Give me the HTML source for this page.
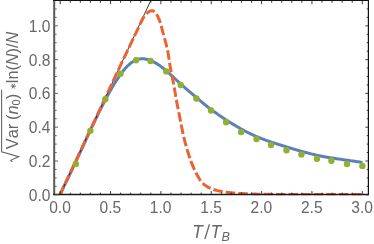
<!DOCTYPE html>
<html><head><meta charset="utf-8"><title>plot</title>
<style>html,body{margin:0;padding:0;background:#fff;}body{width:374px;height:244px;overflow:hidden;font-family:"Liberation Sans",sans-serif;}svg{display:block;will-change:transform}</style>
</head><body>
<svg width="374" height="244" viewBox="0 0 374 244">
<rect width="374" height="244" fill="#fff"/>
<defs><clipPath id="c"><rect x="54" y="0" width="315" height="195.2"/></clipPath></defs>
<g clip-path="url(#c)" fill="none">
<path d="M60.20,194.40 L60.77,193.15 L61.35,191.90 L61.93,190.66 L62.52,189.41 L63.11,188.17 L63.70,186.93 L64.29,185.69 L64.88,184.45 L65.48,183.21 L66.08,181.97 L66.68,180.73 L67.28,179.50 L67.88,178.26 L68.48,177.02 L69.08,175.79 L69.68,174.55 L70.28,173.31 L70.89,172.08 L71.49,170.84 L72.09,169.60 L72.68,168.37 L73.28,167.13 L73.87,165.89 L74.47,164.65 L75.06,163.41 L75.65,162.16 L76.23,160.92 L76.82,159.67 L77.40,158.43 L77.98,157.18 L78.56,155.93 L79.13,154.69 L79.71,153.44 L80.28,152.19 L80.85,150.94 L81.43,149.69 L82.00,148.44 L82.57,147.19 L83.14,145.94 L83.71,144.69 L84.28,143.43 L84.85,142.18 L85.42,140.93 L86.00,139.68 L86.57,138.43 L87.14,137.18 L87.72,135.93 L88.29,134.69 L88.87,133.44 L89.45,132.19 L90.03,130.94 L90.61,129.70 L91.19,128.45 L91.78,127.21 L92.37,125.97 L92.95,124.72 L93.55,123.48 L94.14,122.24 L94.74,121.00 L95.33,119.76 L95.93,118.53 L96.53,117.29 L97.14,116.06 L97.74,114.82 L98.35,113.59 L98.96,112.36 L99.58,111.13 L100.19,109.90 L100.81,108.67 L101.43,107.44 L102.05,106.22 L102.68,104.99 L103.31,103.77 L103.94,102.55 L104.57,101.32 L105.21,100.10 L105.84,98.89 L106.49,97.67 L107.13,96.46 L107.78,95.24 L108.44,94.03 L109.10,92.83 L109.76,91.62 L110.43,90.43 L111.11,89.23 L111.80,88.04 L112.49,86.85 L113.20,85.67 L113.91,84.49 L114.63,83.32 L115.36,82.16 L116.10,81.00 L116.85,79.84 L117.60,78.70 L118.37,77.56 L119.15,76.42 L119.94,75.29 L120.74,74.17 L121.54,73.06 L122.37,71.96 L123.21,70.87 L124.07,69.80 L124.95,68.74 L125.86,67.71 L126.80,66.70 L127.77,65.72 L128.78,64.77 L129.82,63.85 L130.91,62.99 L132.03,62.17 L133.19,61.43 L134.39,60.75 L135.63,60.16 L136.92,59.65 L138.24,59.25 L139.60,58.95 L140.96,58.76 L142.34,58.70 L143.71,58.75 L145.08,58.92 L146.44,59.19 L147.78,59.54 L149.10,59.97 L150.41,60.46 L151.68,61.00 L152.93,61.59 L154.16,62.21 L155.36,62.88 L156.54,63.58 L157.71,64.31 L158.85,65.07 L159.98,65.85 L161.10,66.65 L162.20,67.48 L163.28,68.32 L164.36,69.18 L165.42,70.06 L166.47,70.95 L167.51,71.85 L168.55,72.76 L169.57,73.67 L170.59,74.60 L171.60,75.53 L172.61,76.46 L173.62,77.40 L174.62,78.34 L175.62,79.28 L176.62,80.22 L177.63,81.16 L178.63,82.10 L179.64,83.03 L180.66,83.96 L181.68,84.88 L182.70,85.80 L183.73,86.71 L184.77,87.61 L185.80,88.51 L186.85,89.41 L187.89,90.30 L188.94,91.19 L189.99,92.08 L191.04,92.97 L192.09,93.86 L193.14,94.74 L194.19,95.63 L195.24,96.52 L196.29,97.41 L197.34,98.30 L198.39,99.19 L199.43,100.09 L200.48,100.98 L201.53,101.87 L202.58,102.76 L203.64,103.64 L204.69,104.52 L205.76,105.39 L206.82,106.26 L207.90,107.11 L208.98,107.96 L210.07,108.80 L211.17,109.62 L212.27,110.44 L213.39,111.24 L214.51,112.04 L215.64,112.82 L216.77,113.60 L217.91,114.37 L219.05,115.14 L220.20,115.90 L221.34,116.66 L222.49,117.42 L223.64,118.18 L224.79,118.94 L225.94,119.69 L227.10,120.44 L228.25,121.19 L229.41,121.93 L230.57,122.67 L231.73,123.40 L232.90,124.13 L234.07,124.85 L235.25,125.56 L236.43,126.27 L237.61,126.97 L238.80,127.66 L239.99,128.34 L241.19,129.01 L242.39,129.68 L243.60,130.33 L244.82,130.98 L246.04,131.61 L247.27,132.23 L248.50,132.85 L249.73,133.45 L250.98,134.04 L252.22,134.62 L253.48,135.20 L254.73,135.76 L255.99,136.31 L257.26,136.85 L258.53,137.38 L259.80,137.90 L261.08,138.41 L262.37,138.91 L263.65,139.40 L264.94,139.87 L266.23,140.34 L267.53,140.80 L268.83,141.25 L270.13,141.69 L271.43,142.13 L272.74,142.56 L274.05,142.98 L275.36,143.40 L276.67,143.82 L277.98,144.23 L279.29,144.64 L280.61,145.05 L281.92,145.46 L283.23,145.87 L284.54,146.28 L285.86,146.69 L287.17,147.09 L288.49,147.50 L289.80,147.90 L291.12,148.30 L292.43,148.70 L293.75,149.09 L295.07,149.48 L296.38,149.87 L297.70,150.26 L299.03,150.64 L300.35,151.02 L301.67,151.39 L303.00,151.75 L304.32,152.12 L305.65,152.47 L306.98,152.82 L308.31,153.17 L309.65,153.50 L310.98,153.84 L312.32,154.16 L313.66,154.48 L315.00,154.79 L316.34,155.09 L317.68,155.39 L319.03,155.68 L320.37,155.95 L321.72,156.23 L323.07,156.49 L324.42,156.74 L325.78,156.99 L327.13,157.22 L328.49,157.45 L329.84,157.67 L331.20,157.89 L332.56,158.10 L333.92,158.31 L335.28,158.51 L336.64,158.71 L338.00,158.91 L339.36,159.11 L340.72,159.30 L342.08,159.50 L343.44,159.70 L344.80,159.89 L346.16,160.09 L347.53,160.28 L348.89,160.48 L350.25,160.67 L351.61,160.87 L352.97,161.06 L354.33,161.25 L355.69,161.45 L357.05,161.64 L358.41,161.83 L359.78,162.02 L361.14,162.21 L362.50,162.40" stroke="#5E81B5" stroke-width="3" stroke-linejoin="round"/>
<path d="M60.2,194.4 L153.38,-5" stroke="#222" stroke-width="0.9"/>
<path d="M60.20,194.40 L60.67,193.40 L61.13,192.40 L61.60,191.41 L62.06,190.41 L62.53,189.41 L62.99,188.41 L63.46,187.41 L63.93,186.42 L64.39,185.42 L64.86,184.42 L65.32,183.42 L65.79,182.42 L66.26,181.43 L66.72,180.43 L67.19,179.43 L67.65,178.43 L68.12,177.44 L68.59,176.44 L69.05,175.44 L69.52,174.44 L69.98,173.45 L70.45,172.45 L70.92,171.45 L71.38,170.45 L71.85,169.46 L72.32,168.46 L72.78,167.46 L73.25,166.46 L73.71,165.47 L74.18,164.47 L74.65,163.47 L75.11,162.48 L75.58,161.48 L76.05,160.48 L76.51,159.48 L76.98,158.49 L77.45,157.49 L77.91,156.49 L78.38,155.49 L78.84,154.50 L79.31,153.50 L79.78,152.50 L80.24,151.51 L80.71,150.51 L81.18,149.51 L81.64,148.51 L82.11,147.52 L82.58,146.52 L83.04,145.52 L83.51,144.53 L83.98,143.53 L84.44,142.53 L84.91,141.53 L85.37,140.54 L85.84,139.54 L86.31,138.54 L86.77,137.54 L87.24,136.55 L87.71,135.55 L88.17,134.55 L88.64,133.55 L89.11,132.56 L89.57,131.56 L90.04,130.56 L90.50,129.56 L90.97,128.57 L91.44,127.57 L91.90,126.57 L92.37,125.57 L92.83,124.58 L93.30,123.58 L93.77,122.58 L94.23,121.58 L94.70,120.59 L95.16,119.59 L95.63,118.59 L96.10,117.59 L96.56,116.60 L97.03,115.60 L97.49,114.60 L97.96,113.60 L98.43,112.60 L98.89,111.61 L99.36,110.61 L99.82,109.61 L100.29,108.61 L100.75,107.61 L101.22,106.61 L101.68,105.62 L102.15,104.62 L102.62,103.62 L103.08,102.62 L103.55,101.62 L104.01,100.62 L104.48,99.63 L104.94,98.63 L105.41,97.63 L105.87,96.63 L106.34,95.63 L106.80,94.63 L107.27,93.64 L107.73,92.64 L108.20,91.64 L108.67,90.64 L109.13,89.64 L109.60,88.65 L110.06,87.65 L110.53,86.65 L111.00,85.65 L111.46,84.65 L111.93,83.66 L112.39,82.66 L112.86,81.66 L113.33,80.66 L113.79,79.67 L114.26,78.67 L114.73,77.67 L115.19,76.68 L115.66,75.68 L116.13,74.68 L116.59,73.69 L117.06,72.69 L117.53,71.69 L117.99,70.70 L118.46,69.70 L118.93,68.70 L119.40,67.71 L119.87,66.71 L120.33,65.72 L120.80,64.72 L121.27,63.73 L121.74,62.73 L122.21,61.74 L122.68,60.74 L123.15,59.75 L123.62,58.76 L124.09,57.76 L124.56,56.77 L125.03,55.77 L125.50,54.78 L125.97,53.79 L126.44,52.79 L126.91,51.80 L127.39,50.80 L127.86,49.81 L128.33,48.82 L128.81,47.82 L129.28,46.83 L129.76,45.84 L130.23,44.84 L130.71,43.85 L131.18,42.85 L131.66,41.86 L132.14,40.87 L132.61,39.87 L133.09,38.88 L133.57,37.88 L134.05,36.89 L134.53,35.90 L135.01,34.90 L135.49,33.91 L135.98,32.91 L136.46,31.92 L136.94,30.92 L137.42,29.93 L137.89,28.93 L138.37,27.94 L138.84,26.95 L139.31,25.95 L139.77,24.96 L140.23,23.97 L140.69,22.98 L141.14,21.99 L141.60,21.00 L142.08,20.03 L142.58,19.06 L143.11,18.11 L143.68,17.17 L144.30,16.26 L144.97,15.36 L145.71,14.50 L146.52,13.66 L147.40,12.85 L148.36,12.10 L149.36,11.45 L150.38,10.98 L151.39,10.72 L152.37,10.73 L153.31,11.04 L154.18,11.60 L155.01,12.35 L155.78,13.27 L156.49,14.28 L157.14,15.36 L157.74,16.45 L158.27,17.52 L158.76,18.58 L159.20,19.63 L159.59,20.66 L159.96,21.69 L160.29,22.72 L160.60,23.74 L160.89,24.76 L161.17,25.78 L161.44,26.81 L161.71,27.84 L161.99,28.88 L162.27,29.93 L162.55,30.98 L162.84,32.04 L163.12,33.10 L163.42,34.17 L163.71,35.24 L164.00,36.31 L164.29,37.38 L164.59,38.46 L164.88,39.53 L165.17,40.60 L165.46,41.67 L165.74,42.73 L166.02,43.80 L166.30,44.87 L166.57,45.93 L166.82,47.00 L167.07,48.07 L167.31,49.14 L167.54,50.22 L167.76,51.29 L167.96,52.37 L168.15,53.45 L168.34,54.54 L168.51,55.62 L168.68,56.71 L168.85,57.80 L169.01,58.89 L169.17,59.98 L169.33,61.07 L169.49,62.16 L169.65,63.25 L169.82,64.34 L169.99,65.43 L170.17,66.52 L170.35,67.61 L170.55,68.69 L170.75,69.77 L170.96,70.85 L171.17,71.93 L171.39,73.01 L171.61,74.09 L171.83,75.17 L172.06,76.25 L172.28,77.33 L172.51,78.40 L172.73,79.48 L172.96,80.56 L173.17,81.64 L173.39,82.72 L173.60,83.80 L173.80,84.88 L174.00,85.97 L174.19,87.05 L174.38,88.13 L174.56,89.22 L174.75,90.30 L174.93,91.39 L175.11,92.48 L175.29,93.56 L175.48,94.65 L175.66,95.74 L175.84,96.82 L176.03,97.91 L176.22,98.99 L176.42,100.07 L176.61,101.16 L176.81,102.24 L177.02,103.32 L177.22,104.40 L177.43,105.48 L177.64,106.57 L177.85,107.65 L178.06,108.73 L178.27,109.81 L178.49,110.89 L178.70,111.97 L178.92,113.05 L179.14,114.13 L179.35,115.21 L179.57,116.29 L179.78,117.37 L179.99,118.45 L180.21,119.53 L180.42,120.61 L180.63,121.69 L180.84,122.77 L181.05,123.85 L181.26,124.93 L181.47,126.02 L181.68,127.10 L181.90,128.18 L182.11,129.26 L182.33,130.34 L182.55,131.42 L182.78,132.49 L183.01,133.57 L183.24,134.65 L183.48,135.72 L183.73,136.79 L183.98,137.87 L184.24,138.93 L184.50,140.00 L184.77,141.07 L185.05,142.13 L185.34,143.20 L185.63,144.26 L185.93,145.32 L186.23,146.38 L186.53,147.44 L186.84,148.49 L187.16,149.55 L187.47,150.61 L187.79,151.66 L188.11,152.72 L188.43,153.77 L188.76,154.82 L189.10,155.87 L189.44,156.92 L189.78,157.97 L190.14,159.01 L190.50,160.05 L190.87,161.08 L191.25,162.11 L191.65,163.14 L192.05,164.16 L192.47,165.18 L192.89,166.19 L193.33,167.20 L193.78,168.20 L194.23,169.20 L194.70,170.20 L195.18,171.20 L195.67,172.19 L196.17,173.17 L196.68,174.16 L197.20,175.14 L197.73,176.12 L198.28,177.08 L198.85,178.03 L199.44,178.97 L200.06,179.89 L200.71,180.78 L201.39,181.64 L202.11,182.47 L202.87,183.27 L203.66,184.02 L204.50,184.74 L205.37,185.42 L206.28,186.06 L207.21,186.66 L208.17,187.21 L209.15,187.73 L210.15,188.20 L211.17,188.64 L212.20,189.03 L213.24,189.40 L214.29,189.73 L215.34,190.04 L216.41,190.33 L217.48,190.60 L218.55,190.84 L219.63,191.08 L220.71,191.29 L221.79,191.49 L222.88,191.68 L223.96,191.85 L225.05,192.01 L226.14,192.16 L227.24,192.30 L228.33,192.44 L229.42,192.56 L230.52,192.68 L231.61,192.79 L232.71,192.89 L233.81,192.99 L234.90,193.08 L236.00,193.16 L237.10,193.24 L238.20,193.31 L239.30,193.38 L240.40,193.45 L241.50,193.51 L242.60,193.56 L243.70,193.62 L244.80,193.67 L245.90,193.73 L247.00,193.78 L248.10,193.83 L249.20,193.88 L250.30,193.93 L251.40,193.97 L252.50,194.01 L253.60,194.05 L254.70,194.09 L255.80,194.12 L256.90,194.16 L258.00,194.19 L259.10,194.21 L260.20,194.24 L261.30,194.26 L262.40,194.28 L263.50,194.30 L264.60,194.31 L265.70,194.33 L266.81,194.34 L267.91,194.35 L269.01,194.36 L270.11,194.37 L271.21,194.37 L272.31,194.38 L273.41,194.38 L274.51,194.39 L275.62,194.39 L276.72,194.39 L277.82,194.40 L278.92,194.40 L280.02,194.40 L281.12,194.40 L282.22,194.40 L283.32,194.40 L284.42,194.41 L285.53,194.41 L286.63,194.41 L287.73,194.41 L288.83,194.41 L289.93,194.41 L291.03,194.41 L292.13,194.41 L293.23,194.41 L294.33,194.41 L295.44,194.41 L296.54,194.41 L297.64,194.41 L298.74,194.41 L299.84,194.41 L300.94,194.41 L302.04,194.41 L303.14,194.41 L304.24,194.41 L305.35,194.41 L306.45,194.41 L307.55,194.41 L308.65,194.41 L309.75,194.41 L310.85,194.41 L311.95,194.41 L313.05,194.40 L314.15,194.40 L315.25,194.40 L316.36,194.40 L317.46,194.40 L318.56,194.40 L319.66,194.40 L320.76,194.40 L321.86,194.40 L322.96,194.40 L324.06,194.40 L325.16,194.40 L326.26,194.40 L327.37,194.39 L328.47,194.39 L329.57,194.39 L330.67,194.39 L331.77,194.39 L332.87,194.39 L333.97,194.39 L335.07,194.39 L336.17,194.39 L337.28,194.39 L338.38,194.39 L339.48,194.39 L340.58,194.39 L341.68,194.39 L342.78,194.39 L343.88,194.39 L344.98,194.39 L346.08,194.39 L347.18,194.39 L348.29,194.39 L349.39,194.39 L350.49,194.39 L351.59,194.39 L352.69,194.39 L353.79,194.39 L354.89,194.39 L355.99,194.39 L357.10,194.39 L358.20,194.40 L359.30,194.40 L360.40,194.40 L361.50,194.40" stroke="#EB6235" stroke-width="3" stroke-dasharray="9.55 3.04" stroke-dashoffset="1.22" stroke-linejoin="round"/>
</g>
<circle cx="75.8" cy="163.9" r="3.2" fill="#8FB032"/>
<circle cx="90.4" cy="130.75" r="3.2" fill="#8FB032"/>
<circle cx="105.3" cy="99.3" r="3.2" fill="#8FB032"/>
<circle cx="120.5" cy="73.7" r="3.2" fill="#8FB032"/>
<circle cx="136.1" cy="60.3" r="3.2" fill="#8FB032"/>
<circle cx="150.5" cy="61.0" r="3.2" fill="#8FB032"/>
<circle cx="166.3" cy="71.4" r="3.2" fill="#8FB032"/>
<circle cx="180.7" cy="85.0" r="3.2" fill="#8FB032"/>
<circle cx="196.4" cy="98.5" r="3.2" fill="#8FB032"/>
<circle cx="211.0" cy="110.5" r="3.2" fill="#8FB032"/>
<circle cx="226.1" cy="122.2" r="3.2" fill="#8FB032"/>
<circle cx="241.1" cy="132.1" r="3.2" fill="#8FB032"/>
<circle cx="256.5" cy="139.1" r="3.2" fill="#8FB032"/>
<circle cx="271.0" cy="145.1" r="3.2" fill="#8FB032"/>
<circle cx="286.5" cy="150.2" r="3.2" fill="#8FB032"/>
<circle cx="301.4" cy="154.4" r="3.2" fill="#8FB032"/>
<circle cx="316.9" cy="158.7" r="3.2" fill="#8FB032"/>
<circle cx="331.4" cy="160.7" r="3.2" fill="#8FB032"/>
<circle cx="347.0" cy="164.0" r="3.2" fill="#8FB032"/>
<circle cx="362.4" cy="165.9" r="3.2" fill="#8FB032"/>
<line x1="54.2" y1="0" x2="54.2" y2="195.1" stroke="#5a5a5a" stroke-width="2"/>
<line x1="53.2" y1="194.5" x2="369.0" y2="194.5" stroke="#1a1a1a" stroke-width="1.3"/>
<line x1="368.4" y1="0" x2="368.4" y2="195.1" stroke="#111" stroke-width="1.2"/>
<line x1="53.2" y1="0.25" x2="369.0" y2="0.25" stroke="#111" stroke-width="1.3"/>
<path d="M60.20,194.5 v-3.4 M60.20,0.25 v4.0 M70.27,194.5 v-1.9 M70.27,0.25 v2.5 M80.34,194.5 v-1.9 M80.34,0.25 v2.5 M90.41,194.5 v-1.9 M90.41,0.25 v2.5 M100.48,194.5 v-1.9 M100.48,0.25 v2.5 M110.55,194.5 v-3.4 M110.55,0.25 v4.0 M120.62,194.5 v-1.9 M120.62,0.25 v2.5 M130.69,194.5 v-1.9 M130.69,0.25 v2.5 M140.76,194.5 v-1.9 M140.76,0.25 v2.5 M150.83,194.5 v-1.9 M150.83,0.25 v2.5 M160.90,194.5 v-3.4 M160.90,0.25 v4.0 M170.97,194.5 v-1.9 M170.97,0.25 v2.5 M181.04,194.5 v-1.9 M181.04,0.25 v2.5 M191.11,194.5 v-1.9 M191.11,0.25 v2.5 M201.18,194.5 v-1.9 M201.18,0.25 v2.5 M211.25,194.5 v-3.4 M211.25,0.25 v4.0 M221.32,194.5 v-1.9 M221.32,0.25 v2.5 M231.39,194.5 v-1.9 M231.39,0.25 v2.5 M241.46,194.5 v-1.9 M241.46,0.25 v2.5 M251.53,194.5 v-1.9 M251.53,0.25 v2.5 M261.60,194.5 v-3.4 M261.60,0.25 v4.0 M271.67,194.5 v-1.9 M271.67,0.25 v2.5 M281.74,194.5 v-1.9 M281.74,0.25 v2.5 M291.81,194.5 v-1.9 M291.81,0.25 v2.5 M301.88,194.5 v-1.9 M301.88,0.25 v2.5 M311.95,194.5 v-3.4 M311.95,0.25 v4.0 M322.02,194.5 v-1.9 M322.02,0.25 v2.5 M332.09,194.5 v-1.9 M332.09,0.25 v2.5 M342.16,194.5 v-1.9 M342.16,0.25 v2.5 M352.23,194.5 v-1.9 M352.23,0.25 v2.5 M362.30,194.5 v-3.4 M362.30,0.25 v4.0" stroke="#222" stroke-width="0.9" fill="none"/>
<path d="M55.0,194.80 h3.0 M55.0,186.35 h1.7 M55.0,177.90 h1.7 M55.0,169.45 h1.7 M55.0,161.00 h3.0 M55.0,152.55 h1.7 M55.0,144.10 h1.7 M55.0,135.65 h1.7 M55.0,127.20 h3.0 M55.0,118.75 h1.7 M55.0,110.30 h1.7 M55.0,101.85 h1.7 M55.0,93.40 h3.0 M55.0,84.95 h1.7 M55.0,76.50 h1.7 M55.0,68.05 h1.7 M55.0,59.60 h3.0 M55.0,51.15 h1.7 M55.0,42.70 h1.7 M55.0,34.25 h1.7 M55.0,25.80 h3.0 M55.0,17.35 h1.7 M55.0,8.90 h1.7" stroke="#555" stroke-width="0.9" fill="none"/>
<path d="M368.4,194.80 h-3.0 M368.4,186.35 h-1.7 M368.4,177.90 h-1.7 M368.4,169.45 h-1.7 M368.4,161.00 h-3.0 M368.4,152.55 h-1.7 M368.4,144.10 h-1.7 M368.4,135.65 h-1.7 M368.4,127.20 h-3.0 M368.4,118.75 h-1.7 M368.4,110.30 h-1.7 M368.4,101.85 h-1.7 M368.4,93.40 h-3.0 M368.4,84.95 h-1.7 M368.4,76.50 h-1.7 M368.4,68.05 h-1.7 M368.4,59.60 h-3.0 M368.4,51.15 h-1.7 M368.4,42.70 h-1.7 M368.4,34.25 h-1.7 M368.4,25.80 h-3.0 M368.4,17.35 h-1.7 M368.4,8.90 h-1.7" stroke="#222" stroke-width="0.9" fill="none"/>
<g font-family="Liberation Sans, sans-serif" fill="#676767" style="font-kerning:none">
<text transform="translate(60.00,212.60) scale(1,1.03)" font-size="15.6" text-anchor="middle">0.0</text>
<text transform="translate(110.35,212.60) scale(1,1.03)" font-size="15.6" text-anchor="middle">0.5</text>
<text transform="translate(160.70,212.60) scale(1,1.03)" font-size="15.6" text-anchor="middle">1.0</text>
<text transform="translate(211.05,212.60) scale(1,1.03)" font-size="15.6" text-anchor="middle">1.5</text>
<text transform="translate(261.40,212.60) scale(1,1.03)" font-size="15.6" text-anchor="middle">2.0</text>
<text transform="translate(311.75,212.60) scale(1,1.03)" font-size="15.6" text-anchor="middle">2.5</text>
<text transform="translate(362.10,212.60) scale(1,1.03)" font-size="15.6" text-anchor="middle">3.0</text>
<text transform="translate(50.40,200.80) scale(1,1.03)" font-size="15.6" text-anchor="end">0.0</text>
<text transform="translate(50.40,167.00) scale(1,1.03)" font-size="15.6" text-anchor="end">0.2</text>
<text transform="translate(50.40,133.20) scale(1,1.03)" font-size="15.6" text-anchor="end">0.4</text>
<text transform="translate(50.40,99.40) scale(1,1.03)" font-size="15.6" text-anchor="end">0.6</text>
<text transform="translate(50.40,65.60) scale(1,1.03)" font-size="15.6" text-anchor="end">0.8</text>
<text transform="translate(50.40,31.80) scale(1,1.03)" font-size="15.6" text-anchor="end">1.0</text>
<text transform="translate(192.15,238.20) scale(1,1.06)" font-size="17.3" font-style="italic">T</text>
<path d="M204.85,239 L209.5,224.3" stroke="#676767" stroke-width="1.3" fill="none"/>
<text transform="translate(210.50,238.20) scale(1,1.06)" font-size="17.3" font-style="italic">T</text>
<text transform="translate(221.40,241.00) scale(1,1.06)" font-size="12.6" font-style="italic">B</text>
<g transform="translate(17.6,162) rotate(-90)">
<text transform="translate(12.80,0.00) scale(1,1.04)" font-size="16.4">Var</text>
<text transform="translate(42.00,0.00) scale(1,1.04)" font-size="16.4">(</text>
<text transform="translate(47.46,0.00) scale(1,1.04)" font-size="16.4" font-style="italic">n</text>
<text transform="translate(56.58,2.70) scale(1,1.04)" font-size="11.152">0</text>
<text transform="translate(62.78,0.00) scale(1,1.04)" font-size="16.4">)</text>
<text transform="translate(78.80,0.00) scale(1,1.04)" font-size="16.25">ln(</text>
<text transform="translate(96.85,0.00) scale(1,1.04)" font-size="16.25" font-style="italic">N</text>
<text transform="translate(108.59,0.00) scale(1,1.04)" font-size="16.25">)/</text>
<text transform="translate(118.51,0.00) scale(1,1.04)" font-size="16.25" font-style="italic">N</text>
<path d="M75.85,-7.00 L75.85,-1.60 M73.51,-5.65 L78.19,-2.95 M78.19,-5.65 L73.51,-2.95" fill="none" stroke="#676767" stroke-width="0.95"/>
<path d="M0.1,-5.3 L1.7,-6.9 L5.4,1.1 L10.2,-16 L72.2,-16" fill="none" stroke="#676767" stroke-width="1.1"/>
</g>
</g>
</svg>
</body></html>
